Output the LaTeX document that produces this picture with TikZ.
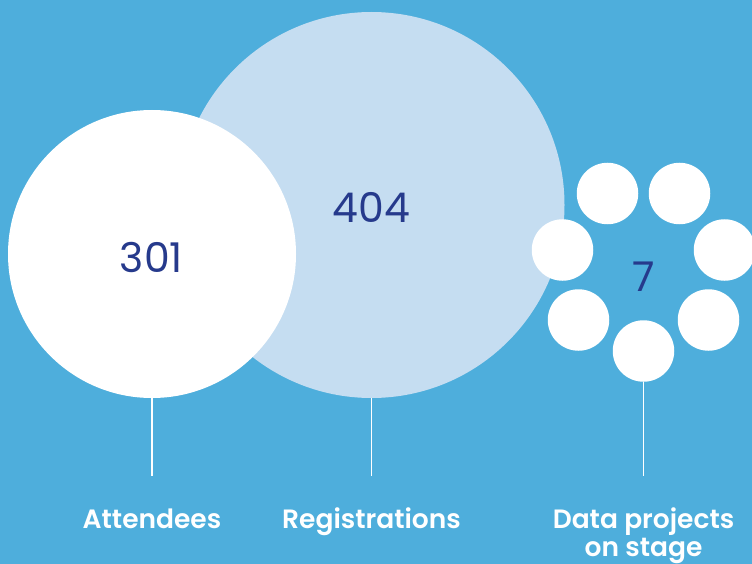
\documentclass[tikz,border=0pt]{standalone}
\usepackage{fontspec}
\setmainfont{Poppins}
\newfontfamily\labfont{Poppins}[UprightFont=* SemiBold]
\definecolor{bg}{HTML}{4EAEDC}
\definecolor{lightc}{HTML}{C5DDF1}
\definecolor{navy}{HTML}{263A8C}
\begin{document}
\begin{tikzpicture}[x=1pt,y=-1pt,
  bigc/.style={circle, inner sep=0pt},
  num/.style={text=navy, inner sep=0pt, font=\fontsize{41}{44}\selectfont},
  dot/.style={circle, fill=white, inner sep=0pt, minimum size=61.5pt},
  stem/.style={draw=white, line width=1.8pt},
  lab/.style={text=white, font=\fontsize{26.5}{28}\labfont, align=center, anchor=base, inner sep=0pt}]
\fill[bg] (0,0) rectangle (752,564);
\useasboundingbox (0,0) rectangle (752,564);
\node[bigc, fill=lightc, minimum size=386pt] (reg) at (371.5,205) {};
\node[bigc, fill=white, minimum size=288pt] (att) at (152,254) {};
\node[num] (n404) at (371.5,207.5) {404};
\node[num] (n301) at (151.5,257.5) {301};
\node[dot] (d1) at (607.5,193.5) {};
\node[dot] (d2) at (679.5,193.5) {};
\node[dot] (d3) at (562.5,250) {};
\node[dot] (d4) at (724.5,250) {};
\node[dot] (d5) at (578.5,320) {};
\node[dot] (d6) at (708.5,320) {};
\node[dot] (d7) at (643.5,351) {};
\node[num] (seven) at (643.5,277) {7};
\coordinate (ea) at (152,476);
\coordinate (er) at (371.5,476);
\coordinate (ed) at (643.5,476);
\draw[stem] (att.south) -- (ea);
\draw[stem] (reg.south) -- (er);
\draw[stem] (d7.south) -- (ed);
\node[lab] (la) at (152,528) {Attendees};
\node[lab] (lr) at (371.5,528) {Registrations};
\node[lab] (ld) at (643.5,556) {Data projects\\on stage};
\end{tikzpicture}
\end{document}
